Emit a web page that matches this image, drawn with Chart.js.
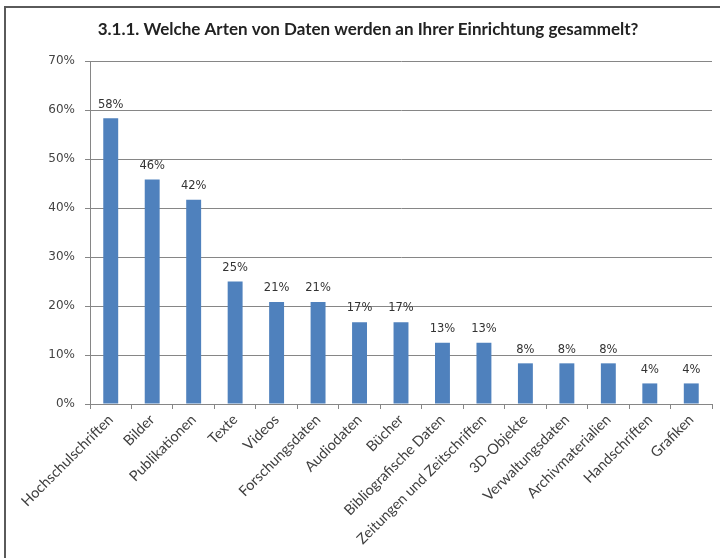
<!DOCTYPE html>
<html>
<head>
<meta charset="utf-8">
<script src="https://cdn.jsdelivr.net/npm/chart.js@4"></script>
<style>
  html, body { margin: 0; padding: 0; background: #fff; overflow: hidden; }
  #wrap { position: relative; width: 720px; height: 558px; }
  #frame { position: absolute; left: 4px; top: 6px; width: 800px; height: 800px; border: 2px solid #5a5a5a; box-sizing: border-box; }
  canvas { position: absolute; left: 0; top: 0; }
</style>
</head>
<body>
<div id="wrap">
  <div id="frame"></div>
  <canvas id="chart" width="720" height="558"></canvas>
</div>
<script>
const title = "3.1.1. Welche Arten von Daten werden an Ihrer Einrichtung gesammelt?";
const categories = ["Hochschulschriften", "Bilder", "Publikationen", "Texte", "Videos", "Forschungsdaten", "Audiodaten", "Bücher", "Bibliografische Daten", "Zeitungen und Zeitschriften", "3D-Objekte", "Verwaltungsdaten", "Archivmaterialien", "Handschriften", "Grafiken"];
const shares = [58.3, 45.8, 41.7, 25.0, 20.8, 20.8, 16.7, 16.7, 12.5, 12.5, 8.3, 8.3, 8.3, 4.2, 4.2];

const barLabels = {
  id: "barLabels",
  afterDatasetsDraw(chart) {
    const ctx = chart.ctx;
    const meta = chart.getDatasetMeta(0);
    ctx.save();
    ctx.font = "11.5px 'DejaVu Sans'";
    ctx.fillStyle = "#333";
    ctx.textAlign = "center";
    ctx.textBaseline = "bottom";
    meta.data.forEach((bar, i) => {
      ctx.fillText(Math.round(shares[i]) + "%", bar.x, bar.y - 8);
    });
    ctx.restore();
  }
};

const titleText = {
  id: "titleText",
  afterDraw(chart) {
    const ctx = chart.ctx;
    ctx.save();
    ctx.font = "bold 17px Lato";
    ctx.fillStyle = "#222";
    ctx.textAlign = "center";
    ctx.textBaseline = "middle";
    ctx.fillText(title, 368, 30);
    ctx.restore();
  }
};

new Chart(document.getElementById("chart"), {
  type: "bar",
  data: {
    labels: categories,
    datasets: [{
      data: shares,
      backgroundColor: "#4f81bd",
      barPercentage: 0.36,
      categoryPercentage: 1
    }]
  },
  options: {
    responsive: false,
    animation: false,
    layout: { padding: { top: 61, left: 0, right: 8, bottom: 0 } },
    plugins: { legend: { display: false }, tooltip: { enabled: false } },
    scales: {
      x: {
        grid: { display: true, drawOnChartArea: false, drawTicks: true, tickLength: 5, color: "#868686", offset: true },
        border: { color: "#868686" },
        ticks: { color: "#404040", font: { family: "Lato", size: 14.5 }, minRotation: 45, maxRotation: 45, padding: 2, autoSkip: false },
        afterFit(scale) { scale.height = 154; }
      },
      y: {
        min: 0,
        max: 70,
        ticks: { stepSize: 10, color: "#444", padding: 10, font: { family: "DejaVu Sans", size: 12 }, callback: v => v + "%" },
        grid: { color: "#868686", tickLength: 5 },
        border: { color: "#868686" },
        afterFit(scale) { scale.width = 90; }
      }
    }
  },
  plugins: [barLabels, titleText]
});
</script>
</body>
</html>
